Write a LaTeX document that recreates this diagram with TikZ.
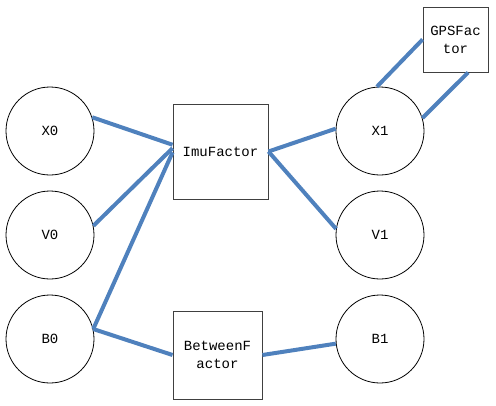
\documentclass[tikz,border=0pt]{standalone}
\usepackage{fontspec}
\setmonofont{Liberation Mono}
\usetikzlibrary{positioning}
\definecolor{EdgeBlue}{RGB}{79,129,189}
\definecolor{BoxGray}{RGB}{64,64,64}
\tikzset{
  varnode/.style={draw,circle,line width=0.8pt,minimum size=88pt,inner sep=0pt,font=\fontsize{14}{18}\selectfont\ttfamily},
  factor/.style={draw=BoxGray,line width=0.9pt,minimum width=95pt,minimum height=95pt,inner sep=0pt,align=center,font=\fontsize{14}{18}\selectfont\ttfamily},
  edge/.style={EdgeBlue,line width=4pt}
}

\begin{document}
\begin{tikzpicture}[x=1pt,y=-1pt]
  \useasboundingbox (0,0) rectangle (496,405);
  % variables
  \node[varnode] (X0) at (50,131) {X0};
  \node[varnode] (V0) at (50,235) {V0};
  \node[varnode] (B0) at (50,339) {B0};
  \node[varnode] (X1) at (380,131) {X1};
  \node[varnode] (V1) at (380,235) {V1};
  \node[varnode] (B1) at (380,339) {B1};
  % factors
  \node[factor] (imu) at (220.5,151.5) {ImuFactor};
  \node[factor,minimum width=89pt,minimum height=88pt] (between) at (217.5,355) {BetweenF\\actor};
  \node[factor,minimum width=65pt,minimum height=65pt] (gps) at (455.5,39.5) {GPSFac\\tor};
  % edges
  \draw[edge] (X0.18) -- (imu.172);
  \draw[edge] (V0.12) -- (imu.176);
  \draw[edge] (B0.13) -- (imu.181);
  \draw[edge] (B0.13) -- (between.west);
  \draw[edge] (imu.east) -- (X1.177);
  \draw[edge] (imu.east) -- (V1.172);
  \draw[edge] (between.east) -- (B1.186);
  \draw[edge] (X1.94) -- (gps.west);
  \draw[edge] (X1.17) -- (gps.-69);
\end{tikzpicture}
\end{document}
